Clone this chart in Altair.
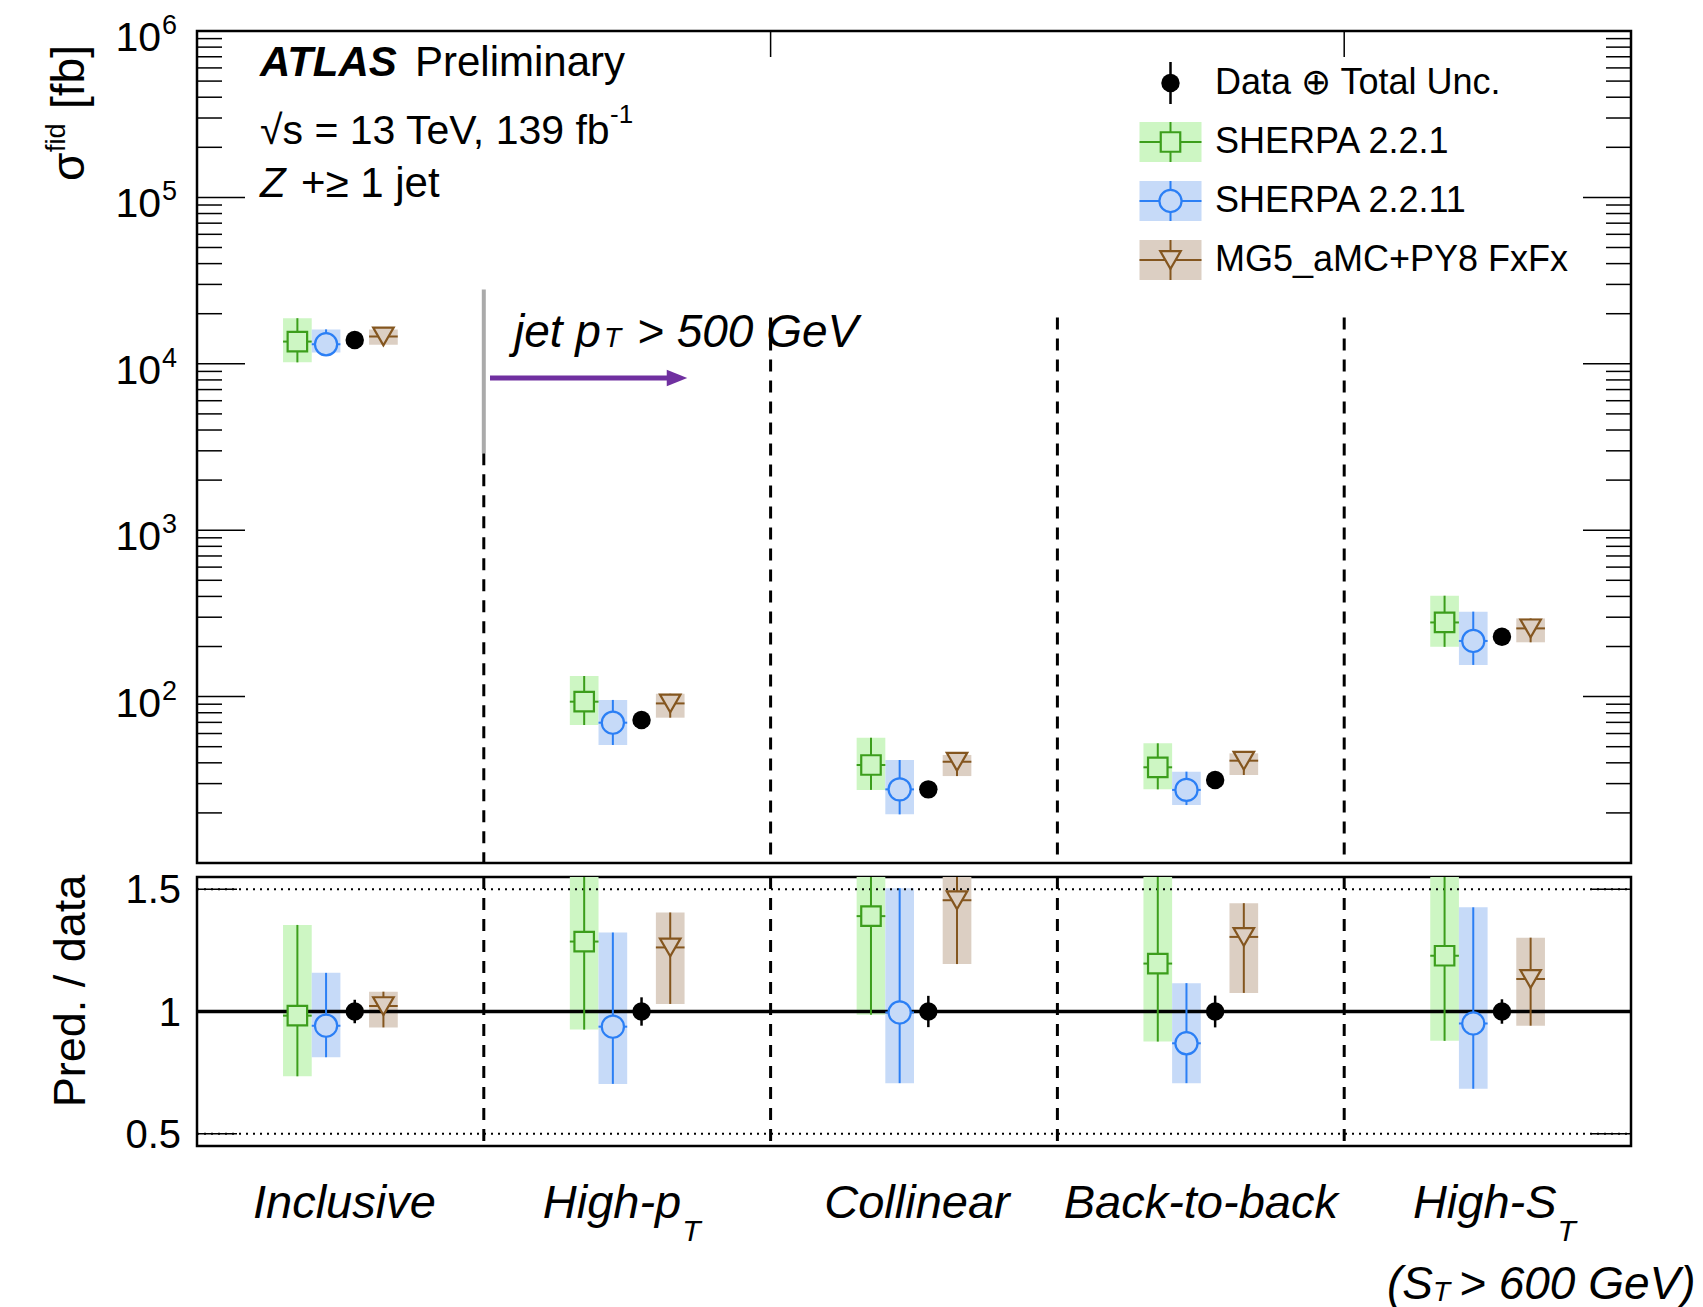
import altair as alt
import pandas as pd

# ---------------- data ----------------
categories = ["Inclusive", "High-pT", "Collinear", "Back-to-back", "High-ST"]
mc_series = ["SHERPA 2.2.1", "SHERPA 2.2.11", "MG5_aMC+PY8 FxFx"]
# sub-slots within each category (empty slots keep the markers centred as in the reference)
slot_order = ["_e1", "_e2", "_e3", "SHERPA 2.2.1", "SHERPA 2.2.11", "Data", "MG5_aMC+PY8 FxFx",
              "_e4", "_e5", "_e6"]

# upper panel: fiducial cross sections [fb]
data_xsec = [13900, 72.3, 27.7, 31.5, 229]

sh221_xsec = [13600, 93.2, 38.8, 37.6, 279]
sh221_lo = [10200, 67.5, 27.5, 27.7, 199]
sh221_hi = [18800, 133, 56.6, 52.4, 404]

sh2211_xsec = [13100, 69.7, 27.7, 27.5, 216]
sh2211_lo = [11700, 51.2, 19.6, 22.3, 155]
sh2211_hi = [16100, 95.5, 41.6, 35.4, 324]

mg5_xsec = [14600, 91.0, 40.6, 41.2, 257]
mg5_lo = [13000, 74.7, 33.3, 33.8, 212]
mg5_hi = [16100, 104, 44.6, 45.6, 295]

# lower panel: prediction / data
data_ratio = [1.0, 1.0, 1.0, 1.0, 1.0]
data_ratio_lo = [0.952, 0.942, 0.936, 0.935, 0.950]
data_ratio_hi = [1.048, 1.058, 1.064, 1.065, 1.050]

sh221_ratio = [0.983, 1.286, 1.390, 1.196, 1.228]
sh221_ratio_lo = [0.735, 0.926, 0.987, 0.877, 0.880]
sh221_ratio_hi = [1.354, 1.84, 2.04, 1.66, 1.76]

sh2211_ratio = [0.942, 0.938, 0.996, 0.870, 0.951]
sh2211_ratio_lo = [0.813, 0.704, 0.707, 0.707, 0.684]
sh2211_ratio_hi = [1.158, 1.323, 1.504, 1.116, 1.426]

mg5_ratio = [1.022, 1.262, 1.455, 1.305, 1.133]
mg5_ratio_lo = [0.935, 1.031, 1.194, 1.076, 0.942]
mg5_ratio_hi = [1.081, 1.405, 1.61, 1.443, 1.302]

# axis ticks
upper_major_ticks = [1e2, 1e3, 1e4, 1e5, 1e6]
upper_minor_ticks = [m * 10 ** k for k in range(1, 6) for m in range(2, 10)]
upper_label_values = [1e2, 1e3, 1e4, 1e5, 1e6]
upper_label_exps = ["2", "3", "4", "5", "6"]
ratio_ticks = [0.5, 1.0, 1.5]
ratio_labels = ["0.5", "1", "1.5"]
ratio_dotted = [0.5, 1.5]
ratio_unity = [1.0]

# annotation values
separator_cats = ["High-pT", "Collinear", "Back-to-back", "High-ST"]
separator_top_fb = [2900, 19000, 19000, 19000]
gray_line_cat = ["High-pT"]
gray_line_lo_fb, gray_line_hi_fb = 2900, 28000
top_tick_cats = ["Collinear", "High-ST"]

# ---------------- styles ----------------
W, H_UP, H_LO = 1434, 832, 269
FONT = "Liberation Sans"
SLOT_PX = W / 5 * 0.1
line_col = {"SHERPA 2.2.1": "#3c9e1c", "SHERPA 2.2.11": "#2b7ff5", "MG5_aMC+PY8 FxFx": "#84561f"}
band_col = {"SHERPA 2.2.1": "#cdf6c3", "SHERPA 2.2.11": "#c6daf8", "MG5_aMC+PY8 FxFx": "#dccfc3"}
shape_of = {"SHERPA 2.2.1": "square", "SHERPA 2.2.11": "circle", "MG5_aMC+PY8 FxFx": "triangle-down"}
size_of = {"SHERPA 2.2.1": 380, "SHERPA 2.2.11": 490, "MG5_aMC+PY8 FxFx": 420}

X_SCALE = alt.Scale(domain=categories, paddingInner=0, paddingOuter=0)
OFF_SCALE = alt.Scale(domain=slot_order, paddingInner=0, paddingOuter=0)
Y_UP = alt.Scale(type="log", domain=[10, 1e6], nice=False)
Y_LO = alt.Scale(domain=[0.45, 1.55], nice=False, zero=False)


def X(**kw):
    return alt.X("cat:N", scale=X_SCALE, axis=None, **kw)


def XO():
    return alt.XOffset("series:N", scale=OFF_SCALE)


def Y(field, scale):
    return alt.Y(field, scale=scale, axis=None)


def table(name, vals, los, his):
    return pd.DataFrame({"cat": categories, "series": name, "val": vals, "lo": los, "hi": his})


def text(s, x, y, size, align="left", baseline="alphabetic", style="normal",
         weight="normal", angle=0, color="black"):
    kw = dict(font=FONT, fontSize=size, align=align, baseline=baseline,
              fontStyle=style, fontWeight=weight, color=color)
    if angle:
        kw["angle"] = angle
    return alt.Chart(pd.DataFrame({"t": [s]})).mark_text(**kw).encode(
        x=alt.value(x), y=alt.value(y), text="t:N")


def series_layers(tables, data_df, yscale, clip, data_err):
    bands, lines, pts = [], [], []
    for name, df in tables:
        bands.append(alt.Chart(df).mark_rect(color=band_col[name], clip=clip).encode(
            x=X(), xOffset=XO(), y=Y("lo:Q", yscale), y2="hi:Q"))
        lines.append(alt.Chart(df).mark_rule(color=line_col[name], strokeWidth=2, clip=clip).encode(
            x=X(), xOffset=XO(), y=Y("lo:Q", yscale), y2="hi:Q"))
        lines.append(alt.Chart(df).mark_tick(color=line_col[name], orient="horizontal", size=SLOT_PX,
                                             thickness=2, opacity=1, clip=clip).encode(
            x=X(), xOffset=XO(), y=Y("val:Q", yscale)))
        pts.append(alt.Chart(df).mark_point(shape=shape_of[name], size=size_of[name], filled=True,
                                            fill=band_col[name], stroke=line_col[name], strokeWidth=2.2,
                                            opacity=1, clip=clip).encode(
            x=X(), xOffset=XO(), y=Y("val:Q", yscale)))
    d = []
    if data_err:
        d.append(alt.Chart(data_df).mark_rule(color="black", strokeWidth=2.5).encode(
            x=X(), xOffset=XO(), y=Y("lo:Q", yscale), y2="hi:Q"))
    d.append(alt.Chart(data_df).mark_circle(size=340, color="black", opacity=1).encode(
        x=X(), xOffset=XO(), y=Y("val:Q", yscale)))
    return bands, lines + pts + d


# ---------------- upper panel ----------------
up_tables = [("SHERPA 2.2.1", table("SHERPA 2.2.1", sh221_xsec, sh221_lo, sh221_hi)),
             ("SHERPA 2.2.11", table("SHERPA 2.2.11", sh2211_xsec, sh2211_lo, sh2211_hi)),
             ("MG5_aMC+PY8 FxFx", table("MG5_aMC+PY8 FxFx", mg5_xsec, mg5_lo, mg5_hi))]
up_data = pd.DataFrame({"cat": categories, "series": "Data", "val": data_xsec})
up_bands, up_marks = series_layers(up_tables, up_data, Y_UP, False, False)

anchor = alt.Chart(pd.DataFrame({"a": [0]})).mark_rule(opacity=0, strokeWidth=0.5).encode(
    x=alt.value(-195), x2=alt.value(-194), y=alt.value(-29), y2=alt.value(-28))

sep_up = alt.Chart(pd.DataFrame({"cat": separator_cats, "top": separator_top_fb, "bot": [10] * 4})).mark_rule(
    color="black", strokeWidth=3, strokeDash=[12, 9]).encode(
    x=X(bandPosition=0), y=Y("top:Q", Y_UP), y2="bot:Q")
gray = alt.Chart(pd.DataFrame({"cat": gray_line_cat, "lo": [gray_line_lo_fb], "hi": [gray_line_hi_fb]})).mark_rule(
    color="#aaaaaa", strokeWidth=4).encode(x=X(bandPosition=0), y=Y("lo:Q", Y_UP), y2="hi:Q")
top_ticks = alt.Chart(pd.DataFrame({"cat": top_tick_cats})).mark_rule(color="black", strokeWidth=1.5).encode(
    x=X(bandPosition=0), y=alt.value(0), y2=alt.value(26))

arrow_line = alt.Chart(pd.DataFrame({"a": [0]})).mark_rule(color="#7030a0", strokeWidth=5).encode(
    x=alt.value(293), x2=alt.value(474), y=alt.value(347))
arrow_head = alt.Chart(pd.DataFrame({"a": [0]})).mark_point(
    shape="M -1 -0.8 L 1 0 L -1 0.8 Z", size=420, filled=True, color="#7030a0", opacity=1).encode(
    x=alt.value(480), y=alt.value(347))


def yticks(values, scale, length):
    df = pd.DataFrame({"v": values})
    left = alt.Chart(df).mark_rule(color="black", strokeWidth=1.5).encode(
        y=Y("v:Q", scale), x=alt.value(0), x2=alt.value(length))
    right = alt.Chart(df).mark_rule(color="black", strokeWidth=1.5).encode(
        y=Y("v:Q", scale), x=alt.value(W - length), x2=alt.value(W))
    return [left, right]


up_ticks = yticks(upper_major_ticks, Y_UP, 48) + yticks(upper_minor_ticks, Y_UP, 25)
lab_df = pd.DataFrame({"v": upper_label_values, "b": ["10"] * 5, "e": upper_label_exps})
up_lab_base = alt.Chart(lab_df).mark_text(font=FONT, fontSize=41, align="right", baseline="middle", dy=8).encode(
    x=alt.value(-36), y=Y("v:Q", Y_UP), text="b:N")
up_lab_exp = alt.Chart(lab_df).mark_text(font=FONT, fontSize=27, align="left", baseline="alphabetic", dy=3).encode(
    x=alt.value(-35), y=Y("v:Q", Y_UP), text="e:N")

up_title = [
    text("σ", -113, 150, 46, angle=270),
    text("fid", -132, 121, 27, angle=270),
    text("[fb]", -113, 78, 46, angle=270),
]

atlas = [
    text("ATLAS", 63, 45, 42, style="italic", weight="bold"),
    text("Preliminary", 218, 45, 42),
    text("√s = 13 TeV, 139 fb", 63, 113, 41),
    text("-1", 413, 92, 26),
    text("Z", 63, 166, 42, style="italic"),
    text("+≥ 1 jet", 104, 166, 42),
    text("jet p", 317, 316, 46, style="italic"),
    text("T", 407, 316, 28, style="italic"),
    text("> 500 GeV", 440, 316, 46, style="italic"),
]

# legend
LEG_X, LEG_Y0, LEG_DY, BOX_HW, BOX_HH, LEG_TX = 973.5, 52, 59, 31, 20, 1018
one = pd.DataFrame({"a": [0]})
legend = [
    alt.Chart(one).mark_rule(color="black", strokeWidth=2.5).encode(
        x=alt.value(LEG_X), y=alt.value(LEG_Y0 - 21), y2=alt.value(LEG_Y0 + 21)),
    alt.Chart(one).mark_circle(size=340, color="black", opacity=1).encode(x=alt.value(LEG_X), y=alt.value(LEG_Y0)),
    text("Data ⊕ Total Unc.", LEG_TX, LEG_Y0, 36, baseline="middle"),
]
for i, name in enumerate(mc_series):
    cy = LEG_Y0 + (i + 1) * LEG_DY
    legend += [
        alt.Chart(one).mark_rect(color=band_col[name]).encode(
            x=alt.value(LEG_X - BOX_HW), x2=alt.value(LEG_X + BOX_HW),
            y=alt.value(cy - BOX_HH), y2=alt.value(cy + BOX_HH)),
        alt.Chart(one).mark_rule(color=line_col[name], strokeWidth=2).encode(
            x=alt.value(LEG_X - BOX_HW), x2=alt.value(LEG_X + BOX_HW), y=alt.value(cy)),
        alt.Chart(one).mark_rule(color=line_col[name], strokeWidth=2).encode(
            x=alt.value(LEG_X), y=alt.value(cy - BOX_HH), y2=alt.value(cy + BOX_HH)),
        alt.Chart(one).mark_point(shape=shape_of[name], size=size_of[name], filled=True, fill=band_col[name],
                                  stroke=line_col[name], strokeWidth=2.2, opacity=1).encode(
            x=alt.value(LEG_X), y=alt.value(cy)),
        text(name, LEG_TX, cy, 36, baseline="middle"),
    ]

upper = alt.layer(anchor, *up_bands, sep_up, gray, top_ticks, arrow_line, arrow_head,
                  *up_marks, *up_ticks, up_lab_base, up_lab_exp, *up_title, *atlas, *legend
                  ).properties(width=W, height=H_UP)

# ---------------- lower panel ----------------
lo_tables = [("SHERPA 2.2.1", table("SHERPA 2.2.1", sh221_ratio, sh221_ratio_lo, sh221_ratio_hi)),
             ("SHERPA 2.2.11", table("SHERPA 2.2.11", sh2211_ratio, sh2211_ratio_lo, sh2211_ratio_hi)),
             ("MG5_aMC+PY8 FxFx", table("MG5_aMC+PY8 FxFx", mg5_ratio, mg5_ratio_lo, mg5_ratio_hi))]
lo_data = pd.DataFrame({"cat": categories, "series": "Data", "val": data_ratio,
                        "lo": data_ratio_lo, "hi": data_ratio_hi})
lo_bands, lo_marks = series_layers(lo_tables, lo_data, Y_LO, True, True)

sep_lo = alt.Chart(pd.DataFrame({"cat": separator_cats})).mark_rule(
    color="black", strokeWidth=3, strokeDash=[12, 9]).encode(
    x=X(bandPosition=0), y=alt.value(0), y2=alt.value(H_LO))
dotted = alt.Chart(pd.DataFrame({"v": ratio_dotted})).mark_rule(
    color="black", strokeWidth=2, strokeDash=[2, 5]).encode(
    y=Y("v:Q", Y_LO), x=alt.value(0), x2=alt.value(W))
unity = alt.Chart(pd.DataFrame({"v": ratio_unity})).mark_rule(color="black", strokeWidth=3.5).encode(
    y=Y("v:Q", Y_LO), x=alt.value(0), x2=alt.value(W))
lo_ticks = yticks(ratio_ticks, Y_LO, 40)
lo_labs = alt.Chart(pd.DataFrame({"v": ratio_ticks, "t": ratio_labels})).mark_text(
    font=FONT, fontSize=40, align="right", baseline="middle", dy=2).encode(
    x=alt.value(-16), y=Y("v:Q", Y_LO), text="t:N")
lo_title = text("Pred. / data", -112, 114, 45, align="center", angle=270)

# category labels: (category, main text, subscript, dx main, dx sub, align main)
cat_label_layout = [
    ("Inclusive", "Inclusive", "", 4, 0, "center"),
    ("High-pT", "High-p", "T", 54, 55, "right"),
    ("Collinear", "Collinear", "", 3, 0, "center"),
    ("Back-to-back", "Back-to-back", "", 0, 0, "center"),
    ("High-ST", "High-S", "T", 69, 70, "right"),
]
cat_labels = []
for cat, main, sub, dxm, dxs, al in cat_label_layout:
    d = pd.DataFrame({"cat": [cat], "m": [main], "s": [sub]})
    cat_labels.append(alt.Chart(d).mark_text(font=FONT, fontSize=47, fontStyle="italic", align=al,
                                             baseline="alphabetic", dx=dxm).encode(
        x=X(), y=alt.value(341), text="m:N"))
    if sub:
        cat_labels.append(alt.Chart(d).mark_text(font=FONT, fontSize=30, fontStyle="italic", align="left",
                                                 baseline="alphabetic", dx=dxs).encode(
            x=X(), y=alt.value(364), text="s:N"))

st_note = [
    text("(S", 1190, 422, 46, style="italic"),
    text("T", 1236, 424, 28, style="italic"),
    text("> 600 GeV)", 1262, 422, 46, style="italic"),
]

lower = alt.layer(*lo_bands, sep_lo, dotted, unity, *lo_marks, *lo_ticks, lo_labs, lo_title,
                  *cat_labels, *st_note).properties(width=W, height=H_LO)

chart = alt.vconcat(upper, lower, spacing=14, bounds="flush").properties(
    padding=0, background="white"
).configure_view(stroke="black", strokeWidth=2.5)

chart.save("out.html", embed_options={"renderer": "svg", "actions": False})
